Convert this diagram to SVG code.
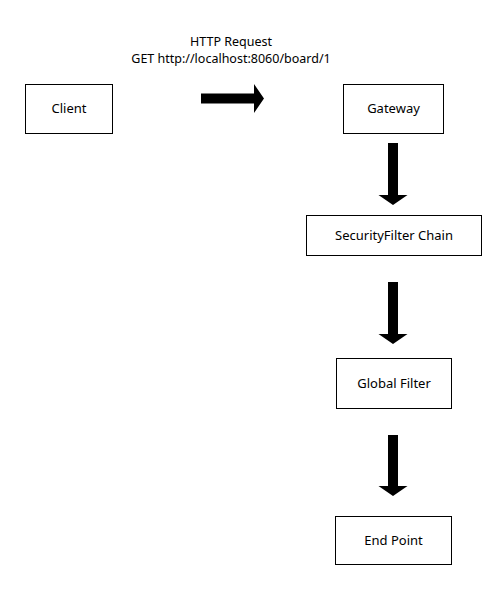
<svg xmlns="http://www.w3.org/2000/svg" width="502" height="612" viewBox="0 0 502 612">
<style>
.box{fill:#fff;stroke:#000;stroke-width:1}
.lbl{font-family:"Noto Sans","Noto Sans CJK KR",sans-serif;font-size:13px;fill:#000;text-anchor:middle}
.cap{font-family:"Noto Sans","Noto Sans CJK KR",sans-serif;font-size:12.5px;fill:#000;text-anchor:middle}
.arr{fill:#000;stroke:none}
</style>
<rect width="502" height="612" fill="#fff"/>
<g id="client"><rect class="box" x="25.5" y="84.5" width="87" height="49"/><text class="lbl" x="69" y="113">Client</text></g>
<g id="gateway"><rect class="box" x="343.5" y="84.5" width="100" height="49"/><text class="lbl" x="393.5" y="113">Gateway</text></g>
<g id="security"><rect class="box" x="306.5" y="215.5" width="175" height="40"/><text class="lbl" x="394" y="240">SecurityFilter Chain</text></g>
<g id="global"><rect class="box" x="336.5" y="358.5" width="115" height="50"/><text class="lbl" x="394" y="388">Global Filter</text></g>
<g id="endpoint"><rect class="box" x="335.5" y="516.5" width="116" height="48"/><text class="lbl" x="393.5" y="545">End Point</text></g>
<g id="connectors">
<polygon class="arr" points="201,93.5 254,93.5 254,84 264,98.5 254,113 254,103.5 201,103.5"/>
<text class="cap" x="231" y="45.5">HTTP Request</text>
<text class="cap" x="231" y="62.5">GET http://localhost:8060/board/1</text>
<polygon class="arr" points="388,143 398,143 398,195 407.5,195 393,205 378.5,195 388,195"/>
<polygon class="arr" points="388,282 398,282 398,334 407.5,334 393,344 378.5,334 388,334"/>
<polygon class="arr" points="388,435 398,435 398,486 407.5,486 393,496 378.5,486 388,486"/>
</g>
</svg>
